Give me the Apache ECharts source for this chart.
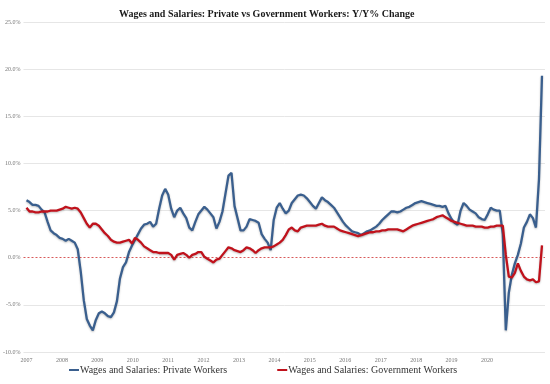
<!DOCTYPE html>
<html>
<head>
<meta charset="utf-8">
<script src="https://cdn.jsdelivr.net/npm/echarts@6/dist/echarts.min.js"></script>
<style>html,body{margin:0;padding:0;background:#fff}#c{width:550px;height:384px}</style>
</head>
<body>
<div id="c"></div>
<script>
// Monthly, Jan 2007 .. Apr 2021 (172 months)
const startYear = 2007;
const yearLabels = ['2007','2008','2009','2010','2011','2012','2013','2014','2015','2016','2017','2018','2019','2020'];
const yTicks = [-10, -5, 0, 5, 10, 15, 20, 25];

const privateWorkers = [
 6.1,5.9,5.6,5.6,5.5,5.1,4.8,3.8,2.9,2.6,2.4,2.1,
 2.0,1.8,2.0,1.8,1.6,0.9,-1.5,-4.5,-6.5,-7.2,-7.7,-6.6,
 -5.9,-5.7,-5.9,-6.2,-6.3,-5.8,-4.6,-2.2,-1.0,-0.5,0.6,1.3,
 1.9,2.5,3.1,3.5,3.6,3.8,3.3,3.6,5.2,6.6,7.3,6.7,
 5.2,4.3,5.0,5.3,4.7,4.2,3.2,2.9,3.8,4.6,5.0,5.4,
 5.1,4.7,4.3,3.1,3.8,4.9,6.8,8.7,9.0,5.5,4.2,2.9,
 2.9,3.3,4.1,4.0,3.9,3.7,2.5,2.0,1.6,0.8,4.0,5.3,
 5.8,5.2,4.7,5.0,5.8,6.2,6.6,6.7,6.6,6.3,5.9,5.5,
 5.2,5.8,6.4,6.1,5.9,5.6,5.3,4.8,4.3,3.8,3.4,3.1,
 2.8,2.7,2.6,2.4,2.6,2.8,2.9,3.1,3.3,3.6,4.0,4.3,
 4.6,4.9,4.9,4.8,4.9,5.1,5.3,5.4,5.6,5.8,5.9,6.0,
 5.9,5.8,5.7,5.6,5.5,5.5,5.4,5.5,4.7,4.1,3.7,3.5,
 5.0,5.8,5.5,5.1,4.9,4.7,4.3,4.1,4.0,4.6,5.3,5.1,
 5.0,5.0,2.5,-7.7,-3.7,-1.8,-0.6,0.3,1.5,3.2,3.8,4.6,
 4.2,3.2,8.3,19.3
];

const governmentWorkers = [
 5.3,4.9,4.9,4.8,4.8,4.9,4.9,4.9,5.0,5.0,5.0,5.1,
 5.2,5.4,5.3,5.2,5.3,5.2,4.8,4.2,3.6,3.2,3.6,3.6,
 3.4,3.0,2.6,2.3,1.9,1.7,1.6,1.6,1.7,1.8,1.9,1.5,
 2.1,1.9,1.6,1.2,1.0,0.8,0.6,0.6,0.5,0.5,0.5,0.5,
 0.3,-0.2,0.3,0.4,0.5,0.3,0.0,0.3,0.4,0.6,0.6,0.1,
 -0.1,-0.3,-0.5,-0.2,-0.1,0.3,0.7,1.1,1.0,0.8,0.7,0.6,
 0.8,1.1,1.0,0.8,0.5,0.8,1.0,1.1,1.1,1.1,1.2,1.4,
 1.6,1.9,2.4,3.0,3.2,2.9,2.8,3.2,3.3,3.4,3.4,3.4,
 3.4,3.5,3.6,3.4,3.3,3.3,3.3,3.1,2.9,2.8,2.7,2.6,
 2.5,2.4,2.3,2.4,2.5,2.6,2.7,2.7,2.8,2.8,2.9,2.9,
 3.0,3.0,3.0,3.0,2.9,2.8,3.0,3.2,3.4,3.5,3.6,3.7,
 3.8,3.9,4.0,4.1,4.3,4.4,4.5,4.3,4.1,3.9,3.8,3.7,
 3.6,3.5,3.4,3.4,3.4,3.3,3.3,3.3,3.2,3.2,3.3,3.3,
 3.4,3.4,3.4,0.3,-2.0,-2.1,-1.6,-0.6,-1.4,-2.0,-2.3,-2.4,
 -2.3,-2.6,-2.5,1.3
];

const seriesNames = ['Wages and Salaries: Private Workers', 'Wages and Salaries: Government Workers'];

const toPairs = arr => arr.map((v, i) => [i, v]);
// year label spacing as it appears in the reference (slightly under 12 months)
const labelStep = 11.75;
const labelPositions = yearLabels.map((y, i) => i * labelStep);

const chart = echarts.init(document.getElementById('c'));
const serif = '"Liberation Serif","DejaVu Serif",serif';
const yMin = yTicks[0], yMax = yTicks[yTicks.length - 1], yStep = yTicks[1] - yTicks[0];
chart.setOption({
  backgroundColor: '#fff',
  animation: false,
  title: {
    text: 'Wages and Salaries: Private vs Government Workers: Y/Y% Change',
    left: 114, top: 4,
    textStyle: { fontFamily: serif, fontWeight: 'bold', fontSize: 10, color: '#1a1a1a' }
  },
  legend: {
    bottom: 4, left: 64,
    itemGap: 50, itemWidth: 10, itemHeight: 2,
    icon: 'rect',
    textStyle: { fontFamily: serif, fontSize: 10, color: '#333', padding: [0,0,0,-4] },
    data: seriesNames
  },
  grid: { left: 22, right: 5, top: 22, bottom: 32, containLabel: false },
  xAxis: {
    type: 'value', min: -1, max: 172,
    axisLine: { show: false },
    axisTick: { show: false },
    splitLine: { show: false },
    axisLabel: {
      customValues: labelPositions,
      formatter: v => yearLabels[Math.round(v / labelStep)],
      fontFamily: serif, fontSize: 6, color: '#777', margin: 5
    }
  },
  yAxis: [
    {
      type: 'value', min: yMin, max: yMax, interval: yStep,
      axisLine: { show: false },
      axisTick: { show: false },
      splitLine: { lineStyle: { color: yTicks.map(t => t === 0 ? 'rgba(0,0,0,0)' : '#e6e6e6'), width: 1 } },
      axisLabel: {
        formatter: v => v.toFixed(1) + '%',
        fontFamily: serif, fontSize: 6, color: '#777', margin: 3
      }
    },
    {
      // overlay axis used only to draw the dotted zero reference line
      type: 'value', min: yMin, max: yMax, interval: yStep, position: 'left',
      axisLine: { show: false }, axisTick: { show: false }, axisLabel: { show: false },
      splitLine: { lineStyle: { type: [2, 2], width: 1, color: yTicks.map(t => t === 0 ? '#d85a5a' : 'rgba(0,0,0,0)') } }
    }
  ],
  series: [
    {
      name: seriesNames[0], type: 'line', data: toPairs(privateWorkers),
      showSymbol: false, symbol: 'none', z: 3,
      color: '#3a5f8e',
      lineStyle: { width: 2.3, color: '#3a5f8e', shadowColor: 'rgba(0,0,0,0.25)', shadowBlur: 2, shadowOffsetY: 1 }
    },
    {
      name: seriesNames[1], type: 'line', data: toPairs(governmentWorkers),
      showSymbol: false, symbol: 'none', z: 4,
      color: '#c0121c',
      lineStyle: { width: 2.3, color: '#c0121c', shadowColor: 'rgba(0,0,0,0.25)', shadowBlur: 2, shadowOffsetY: 1 }
    }
  ]
});
</script>
</body>
</html>
